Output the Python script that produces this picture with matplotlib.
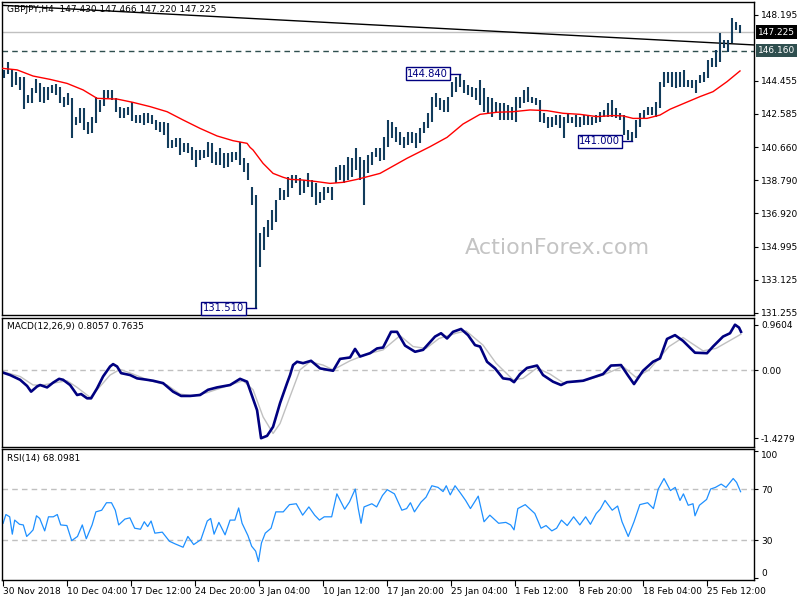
import numpy as np
import matplotlib.pyplot as plt
from matplotlib.transforms import blended_transform_factory

plt.rcParams['font.family'] = 'DejaVu Sans'

# Barras de precio (cada barra agrupa dos velas H4)
highs = [145.06, 145.50, 145.10, 144.97, 144.68, 144.68, 143.64, 144.02, 144.53, 144.30,
         144.12, 144.12, 144.21, 144.25, 144.12, 143.55, 143.74, 143.45, 142.41, 142.88,
         142.88, 142.12, 142.41, 143.55, 143.36, 143.93, 143.93, 143.93, 143.45, 142.98,
         142.88, 142.98, 143.26, 142.50, 142.50, 142.64, 142.60, 142.50, 142.22, 142.12,
         142.12, 142.03, 141.08, 141.18, 141.18, 140.89, 140.89, 140.70, 140.51, 140.51,
         140.51, 140.99, 140.89, 140.42, 140.61, 140.32, 140.32, 140.42, 140.42, 140.99,
         140.04, 139.75, 138.43, 137.95, 135.77, 136.15, 136.53, 137.10, 137.67, 138.33,
         138.24, 138.99, 139.09, 139.09, 138.90, 138.80, 139.18, 138.80, 138.61, 138.14,
         138.43, 138.43, 138.43, 139.56, 139.66, 139.66, 140.13, 140.04, 140.60, 140.13,
         139.94, 140.23, 140.42, 140.60, 140.60, 141.27, 142.22, 142.12, 141.84, 141.55,
         141.27, 141.55, 141.55, 141.46, 141.74, 142.12, 142.60, 143.55, 143.74, 143.45,
         143.36, 143.55, 144.40, 144.68, 144.84, 144.50, 144.21, 144.12, 144.02, 144.50,
         144.02, 143.55, 143.45, 143.26, 143.17, 143.17, 143.07, 142.98, 143.55, 143.55,
         143.93, 144.12, 143.55, 143.45, 143.36, 142.60, 142.41, 142.41, 142.50, 142.50,
         142.41, 142.60, 142.41, 142.50, 142.41, 142.50, 142.50, 142.41, 142.50, 142.69,
         142.79, 143.17, 143.36, 142.88, 142.60, 142.50, 141.65, 141.55, 142.22, 142.60,
         142.79, 142.98, 142.98, 143.26, 144.40, 144.97, 144.97, 144.97, 144.97, 144.97,
         145.07, 144.50, 144.50, 144.50, 144.78, 144.97, 145.63, 145.73, 146.20, 147.15,
         146.77, 146.77, 148.00, 147.82, 147.63]
lows = [144.59, 144.84, 144.12, 144.21, 143.93, 142.83, 143.20, 143.20, 143.74, 143.26,
        143.20, 143.36, 143.74, 143.64, 143.20, 142.98, 143.07, 141.18, 141.93, 142.03,
        141.65, 141.42, 141.46, 142.03, 142.69, 143.02, 143.45, 143.36, 142.69, 142.31,
        142.31, 142.50, 142.18, 142.07, 142.03, 141.93, 142.03, 141.99, 141.65, 141.55,
        141.37, 140.61, 140.61, 140.70, 140.23, 140.42, 140.32, 139.94, 139.56, 139.94,
        140.04, 140.13, 139.75, 139.66, 139.66, 139.47, 139.56, 139.85, 139.94, 139.66,
        139.28, 138.80, 137.38, 131.51, 133.87, 134.82, 135.58, 135.96, 136.43, 137.67,
        137.67, 137.86, 138.33, 138.61, 137.95, 138.05, 138.43, 137.86, 137.38, 137.48,
        137.67, 138.05, 137.67, 138.61, 138.80, 138.61, 138.80, 138.99, 139.37, 138.80,
        137.38, 139.18, 139.66, 140.13, 139.90, 139.94, 140.70, 141.18, 140.99, 140.80,
        140.61, 140.80, 140.89, 140.61, 140.89, 141.46, 141.74, 142.12, 142.98, 142.79,
        142.69, 142.69, 143.55, 143.83, 144.12, 143.74, 143.64, 143.55, 143.36, 143.07,
        142.69, 142.60, 142.41, 142.60, 142.22, 142.22, 142.22, 142.22, 142.12, 142.88,
        143.17, 143.26, 143.17, 143.07, 142.12, 142.03, 141.74, 141.84, 141.93, 141.74,
        141.18, 142.03, 142.03, 141.84, 141.84, 141.93, 141.93, 141.93, 142.03, 142.12,
        142.41, 142.41, 142.41, 142.31, 142.22, 141.37, 141.08, 141.00, 141.18, 141.84,
        142.31, 142.50, 142.50, 142.41, 142.88, 144.12, 144.30, 144.12, 144.02, 144.12,
        144.12, 144.12, 144.02, 143.74, 144.31, 144.40, 144.59, 145.26, 145.26, 145.54,
        146.30, 146.11, 146.58, 147.34, 147.15]

# Media movil (roja), en indice de vela H4
ma_idx = [-0.5, 7, 15, 23.5, 32, 40, 47, 57, 65, 73.5, 82, 90, 98.5, 107, 115, 122,
          123.5, 125, 130, 135, 140, 143.5, 150, 157, 163.5, 170, 177, 183.5, 188.5,
          202, 213.5, 222, 230, 238.5, 247, 255, 263.5, 272, 280, 288.5, 297, 305, 310,
          315, 322, 328.5, 333.5, 338.5, 348.5, 355, 362, 368.5]
ma_val = [145.16, 145.07, 144.72, 144.53, 144.30, 143.93, 143.45, 143.41, 143.22, 142.98,
          142.69, 142.22, 141.74, 141.31, 141.04, 140.89, 140.66, 140.51, 139.75, 139.18,
          138.96, 138.84, 138.80, 138.71, 138.61, 138.67, 138.84, 139.03, 139.18, 140.04,
          140.70, 141.23, 141.99, 142.54, 142.66, 142.69, 142.79, 142.75, 142.60, 142.54,
          142.41, 142.47, 142.45, 142.31, 142.31, 142.50, 142.83, 143.07, 143.55, 143.83,
          144.40, 145.01]

# Linea de tendencia y niveles
trend_idx = [-1.5, 375.5]
trend_val = [148.75, 146.49]
last_price = 147.225
level = 146.160

# Maximos / minimos marcados
marks_bar = [63, 114, 157]
marks_val = [131.510, 144.840, 141.000]

# MACD(12,26,9)
macd_idx = [0, 3.5, 8.5, 12, 14, 17, 18.5, 22, 25, 28, 30, 33.5, 37, 39, 42, 44, 47, 50,
            53.5, 55, 57, 59, 63.5, 67, 72, 75, 80, 85, 89, 93.5, 98.5, 102.5, 107, 113.5,
            118.5, 122, 124, 127, 129, 132, 135, 138.5, 142, 143.5, 145, 147, 150, 154,
            158.5, 165, 168.5, 173.5, 176, 178.5, 183.5, 187, 190, 194, 197, 201, 206, 210,
            216, 219, 222, 225, 229, 232.5, 236, 238.5, 242, 246, 250, 253.5, 255.5, 258.5,
            262, 267, 270, 275, 279, 282, 290, 295, 300, 304, 309, 312.5, 315.5, 320, 325,
            328.5, 332, 336, 340, 346, 352, 355, 360, 363.5, 366, 368, 369]
macd_val = [-0.05, -0.10, -0.20, -0.33, -0.45, -0.34, -0.31, -0.36, -0.26, -0.18, -0.20,
            -0.31, -0.52, -0.50, -0.59, -0.59, -0.38, -0.13, 0.08, 0.13, 0.08, -0.06, -0.10,
            -0.17, -0.20, -0.22, -0.27, -0.45, -0.54, -0.54, -0.52, -0.41, -0.36, -0.31,
            -0.18, -0.24, -0.48, -0.84, -1.43, -1.38, -1.19, -0.69, -0.27, -0.10, 0.11, 0.18,
            0.15, 0.20, 0.04, -0.01, 0.24, 0.27, 0.45, 0.29, 0.36, 0.46, 0.48, 0.81, 0.81,
            0.52, 0.39, 0.43, 0.71, 0.78, 0.67, 0.81, 0.87, 0.74, 0.53, 0.50, 0.18, 0.04,
            -0.17, -0.19, -0.25, -0.08, 0.05, 0.10, -0.10, -0.24, -0.31, -0.25, -0.22, -0.15,
            -0.08, 0.10, 0.11, -0.11, -0.29, -0.01, 0.18, 0.25, 0.66, 0.74, 0.62, 0.37, 0.36,
            0.50, 0.71, 0.78, 0.96, 0.90, 0.81]
signal_idx = [0, 8.5, 15, 20, 25, 32, 37, 43.5, 48.5, 53.5, 58.5, 65, 73.5, 82, 88.5, 95,
              102, 112, 120, 125, 130, 135, 138.5, 143.5, 148.5, 153.5, 160, 165, 173.5,
              182, 190, 198.5, 205, 211.5, 218, 226.5, 231.5, 240, 246.5, 255, 260, 267,
              273.5, 280, 290, 300, 310, 316.5, 323, 333, 340, 350, 356.5, 369]
signal_val = [-0.03, -0.13, -0.31, -0.31, -0.27, -0.22, -0.36, -0.57, -0.34, -0.10, 0.02,
              -0.08, -0.22, -0.31, -0.50, -0.54, -0.47, -0.33, -0.22, -0.41, -0.98, -1.33,
              -1.12, -0.55, 0.01, 0.18, 0.11, 0.01, 0.20, 0.34, 0.43, 0.73, 0.50, 0.46, 0.67,
              0.78, 0.83, 0.53, 0.15, -0.20, -0.17, 0.05, -0.08, -0.26, -0.23, -0.10, 0.08,
              -0.15, 0.01, 0.50, 0.69, 0.41, 0.46, 0.76]

# RSI(14)
rsi_idx = [0, 1.4, 3.3, 4.6, 5.8, 8.2, 10.1, 11.8, 13.5, 15, 16.7, 18.3, 20.8, 22.7, 25.1,
           27.1, 28.8, 31.9, 34.3, 37.2, 39.6, 41.6, 44.5, 46.4, 49.3, 51.7, 54.2, 56.1,
           57.8, 60.9, 63.4, 65.8, 68.7, 70.6, 72.3, 74, 75.9, 79.6, 83.2, 86.1, 90, 92.4,
           95.3, 98.9, 102.1, 103.8, 105.5, 107.9, 111, 113.5, 115.9, 117.8, 119.5, 122.4,
           124.3, 126.3, 127.7, 129.2, 131.1, 134, 136.4, 140.1, 143.2, 146.6, 149.8, 152.9,
           155.8, 158.2, 160.6, 164.3, 166.9, 170.8, 173.2, 176.1, 177.6, 179, 180.5, 184.4,
           186.8, 189.7, 192.1, 195.7, 199.4, 201.8, 203.7, 205.7, 209, 211.5, 214.4, 217.5,
           220, 221.6, 223.6, 226, 228.4, 231.3, 233.7, 237.6, 240.5, 243.4, 247.8, 251.4,
           253.8, 255.5, 257.4, 261.1, 265.9, 269, 271.5, 274.4, 276.8, 279.2, 282.1, 285.3,
           288.4, 291.3, 293.7, 296.6, 298.6, 301, 304.6, 307.3, 309.5, 312.6, 315.5, 318.4,
           322.3, 325.2, 327.6, 330.5, 333.7, 336.1, 338.5, 340.2, 342.6, 345, 346, 348.2,
           351.8, 353.8, 356.2, 359.1, 361.5, 365.1, 366.8, 368.8]
rsi_val = [43.2, 50.1, 48.3, 34.6, 45.7, 42.4, 41.9, 32.8, 35.4, 38.0, 49.1, 47.0, 37.2,
           48.3, 48.3, 50.1, 41.9, 41.4, 29.5, 32.8, 41.9, 31.0, 41.9, 52.2, 53.5, 59.4, 59.4,
           53.5, 41.9, 46.5, 47.5, 39.3, 38.5, 44.4, 40.6, 45.0, 35.4, 36.2, 29.0, 26.9, 24.3,
           32.8, 26.4, 30.3, 45.0, 47.0, 34.6, 43.9, 34.1, 45.7, 45.7, 55.3, 43.2, 33.6, 25.1,
           21.2, 13.0, 27.7, 35.4, 39.3, 52.2, 52.2, 57.9, 58.6, 49.6, 56.1, 49.6, 45.7, 48.3,
           48.3, 66.4, 54.3, 60.0, 70.2, 54.8, 43.2, 56.1, 58.6, 56.1, 65.1, 69.7, 66.4, 53.5,
           54.8, 59.4, 52.2, 59.9, 63.8, 72.8, 71.5, 68.2, 72.8, 65.6, 72.8, 67.7, 61.2, 54.8,
           64.6, 44.4, 49.6, 43.2, 43.9, 41.9, 38.0, 54.8, 57.9, 50.9, 39.3, 41.4, 37.2, 39.3,
           45.7, 41.4, 48.3, 41.9, 48.3, 42.4, 50.9, 54.3, 61.2, 53.5, 56.8, 44.4, 32.8, 44.4,
           57.9, 59.4, 54.8, 70.2, 78.5, 69.0, 71.5, 61.2, 66.4, 57.4, 58.6, 49.1, 57.4, 62.0,
           70.2, 71.5, 74.1, 71.5, 78.5, 75.4, 68.1]

# Etiquetas del eje de tiempo (cada 32 velas H4)
date_idx = [0, 32, 64, 96, 128, 160, 192, 224, 256, 288, 320, 352]
date_labels = ["30 Nov 2018", "10 Dec 04:00", "17 Dec 12:00", "24 Dec 20:00", "3 Jan 04:00",
               "10 Jan 12:00", "17 Jan 20:00", "25 Jan 04:00", "1 Feb 12:00", "8 Feb 20:00",
               "18 Feb 04:00", "25 Feb 12:00"]

price_ticks = [148.195, 144.455, 142.585, 140.660, 138.790, 136.920, 134.995, 133.125, 131.255]

bar_color = '#123c5c'
navy = '#000080'
fs = 6.5

fig = plt.figure(figsize=(8, 6), dpi=100)
ax1 = fig.add_axes([0.002, 0.475, 0.9405, 0.5217])
ax2 = fig.add_axes([0.002, 0.255, 0.9405, 0.215])
ax3 = fig.add_axes([0.002, 0.0333, 0.9405, 0.2184])

for ax in (ax1, ax2, ax3):
    ax.set_xlim(-0.75, 375.5)
    for s in ax.spines.values():
        s.set_linewidth(1.0)
        s.set_color('black')
    ax.yaxis.tick_right()
    ax.tick_params(axis='y', direction='out', length=3, width=0.8, pad=2, labelsize=fs)
    ax.tick_params(axis='x', bottom=False, labelbottom=False)

# --- Panel de precio ---
x = np.arange(len(highs)) * 2 + 0.5
ax1.vlines(x, lows, highs, color=bar_color, lw=1.5, zorder=3)
ax1.plot(ma_idx, ma_val, color='red', lw=1.0, zorder=4)
ax1.plot(trend_idx, trend_val, color='black', lw=1.0, zorder=2)
ax1.axhline(last_price, color='#c0c0c0', lw=1.0, zorder=1)
ax1.axhline(level, color='#2f4f4f', lw=1.0, ls=(0, (4, 3)), zorder=1)
ax1.set_ylim(131.12, 148.935)
ax1.set_yticks(price_ticks)
ax1.set_yticklabels(['%.3f' % v for v in price_ticks])

tr = blended_transform_factory(ax1.transAxes, ax1.transData)
ax1.text(1.005, last_price, '%.3f' % last_price, transform=tr, color='white', fontsize=fs,
         va='center', ha='left', clip_on=False,
         bbox=dict(boxstyle='square,pad=0.25', fc='black', ec='none'))
ax1.text(1.005, level, '%.3f' % level, transform=tr, color='white', fontsize=fs,
         va='center', ha='left', clip_on=False,
         bbox=dict(boxstyle='square,pad=0.25', fc='#2f4f4f', ec='none'))

for b, v in zip(marks_bar, marks_val):
    bx = 2 * b + 0.5
    ax1.plot([bx - 6, bx], [v, v], color=navy, lw=1.0, zorder=5)
    ax1.text(bx - 6, v, '%.3f' % v, color=navy, fontsize=7.2, ha='right', va='center',
             zorder=6, bbox=dict(boxstyle='square,pad=0.15', fc='white', ec=navy, lw=1.0))

fig.text(557 / 800, 1 - 248 / 600, 'ActionForex.com', fontsize=16, color='#c4c4c4',
         ha='center', va='center')
fig.text(7 / 800, 1 - 10 / 600, 'GBPJPY,H4  147.430 147.466 147.220 147.225',
         fontsize=fs, va='center', ha='left')

# --- Panel MACD ---
ax2.axhline(0, color='#c0c0c0', lw=1.0, ls=(0, (4, 3)))
ax2.plot(signal_idx, signal_val, color='#c0c0c0', lw=1.0)
ax2.plot(macd_idx, macd_val, color=navy, lw=1.9, solid_joinstyle='round')
ax2.set_ylim(-1.615, 1.101)
ax2.set_yticks([0.9604, 0.0, -1.4279])
ax2.set_yticklabels(['0.9604', '0.00', '-1.4279'])
fig.text(7 / 800, 1 - 326 / 600, 'MACD(12,26,9) 0.8057 0.7635', fontsize=fs,
         va='center', ha='left')

# --- Panel RSI ---
ax3.axhline(70, color='#c0c0c0', lw=1.0, ls=(0, (4, 3)))
ax3.axhline(30, color='#c0c0c0', lw=1.0, ls=(0, (4, 3)))
ax3.plot(rsi_idx, rsi_val, color='#1e90ff', lw=0.9)
ax3.set_ylim(-1.56, 101.8)
ax3.set_yticks([100, 70, 30, 0])
ax3.set_yticklabels(['100', '70', '30', '0'])
ylab = ax3.get_yticklabels()
ylab[0].set_va('top')
ylab[3].set_va('bottom')
fig.text(7 / 800, 1 - 459 / 600, 'RSI(14) 68.0981', fontsize=fs, va='center', ha='left')

ax3.tick_params(axis='x', bottom=True, labelbottom=True, direction='out', length=4,
                width=0.8, pad=1, labelsize=fs)
ax3.set_xticks(date_idx)
ax3.set_xticklabels(date_labels)
for t in ax3.get_xticklabels():
    t.set_ha('left')

fig.savefig('out.png', dpi=100, facecolor='white')
